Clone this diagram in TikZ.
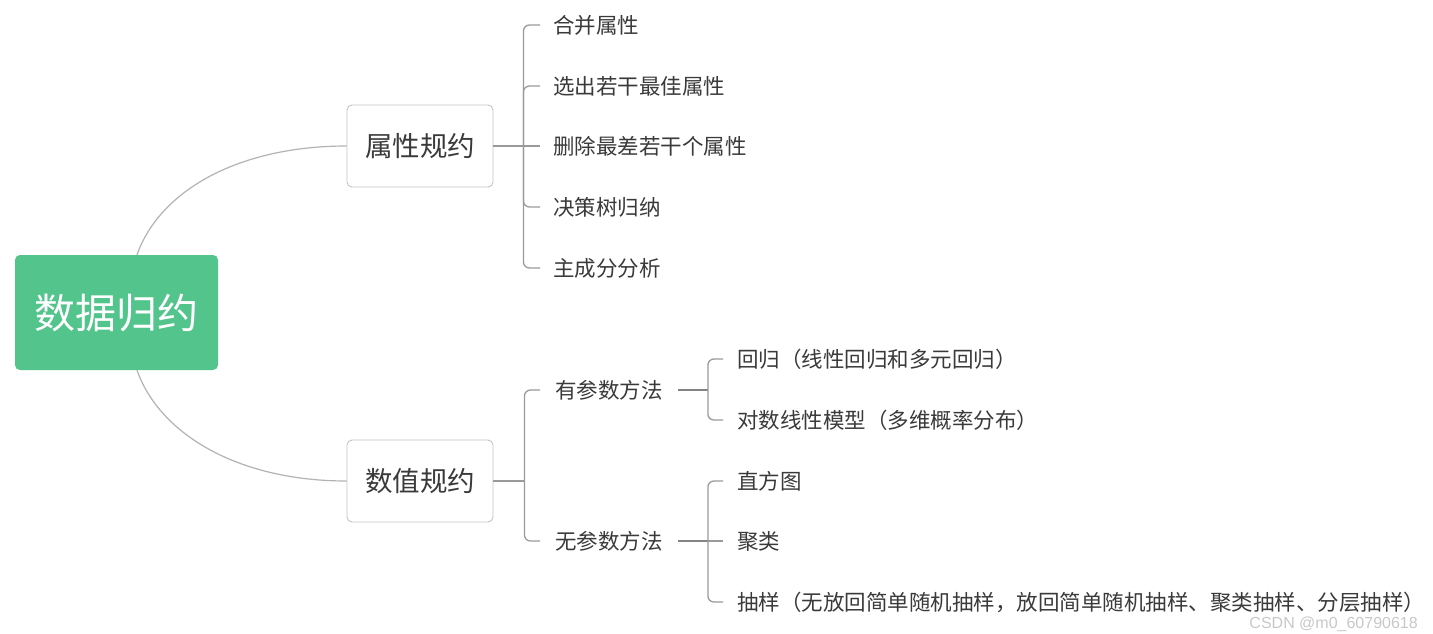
\documentclass[tikz,border=0pt]{standalone}
\usepackage{fontspec}
\newfontfamily\cjk{Noto Sans CJK SC}
\newfontfamily\wmfont{Liberation Sans}
\usetikzlibrary{positioning,calc}

\definecolor{rootgreen}{HTML}{52C48C}
\definecolor{textgray}{HTML}{3A3A3A}
\definecolor{linegray}{HTML}{9A9A9A}
\definecolor{boxgray}{HTML}{C4C4C4}
\definecolor{markgray}{HTML}{C8C8C8}

\tikzset{
  rootbox/.style={fill=rootgreen, rounded corners=5pt, minimum width=203pt,
    minimum height=115pt, text=white, font=\cjk\fontsize{41}{48}\selectfont},
  topicbox/.style={draw=boxgray, line width=0.9pt, fill=white, rounded corners=5pt,
    minimum width=146pt, minimum height=82pt, text=textgray,
    font=\cjk\fontsize{27.5}{33}\selectfont},
  leaf/.style={anchor=west, inner sep=0pt, text=textgray,
    font=\cjk\fontsize{21.5}{26}\selectfont},
  branch/.style={draw=linegray, line width=1.3pt, rounded corners=6pt},
  stub/.style={draw=linegray!85!black, line width=2.6pt},
  curve/.style={draw=linegray!75, line width=1.2pt},
}

\begin{document}
\begin{tikzpicture}[x=1pt,y=-1pt]
    \fill[white] (0,0) rectangle (1433,633);
    \useasboundingbox (0,0) rectangle (1433,633);

    % main topics
    \node[rootbox] (root) at (116.5,312.5) {数据归约};
    \node[topicbox] (attr) at (420,146) {属性规约};
    \node[topicbox] (num) at (420,481) {数值规约};

    % attribute reduction
    \node[leaf] (a1) at (553,25) {合并属性};
    \node[leaf] (a2) at (553,86) {选出若干最佳属性};
    \node[leaf] (a3) at (553,146) {删除最差若干个属性};
    \node[leaf] (a4) at (553,207) {决策树归纳};
    \node[leaf] (a5) at (553,268) {主成分分析};

    % numerosity reduction
    \node[leaf] (p1) at (555,390) {有参数方法};
    \node[leaf] (p2) at (555,541) {无参数方法};
    \node[leaf] (r1) at (737,359) {回归（线性回归和多元回归）};
    \node[leaf] (r2) at (737,420) {对数线性模型（多维概率分布）};
    \node[leaf] (s1) at (737,481) {直方图};
    \node[leaf] (s2) at (737,541) {聚类};
    \node[leaf] (s3) at (737,602) {抽样（无放回简单随机抽样，放回简单随机抽样、聚类抽样、分层抽样）};

    \node[anchor=east, inner sep=0pt, text=markgray, font=\wmfont\fontsize{16}{18}\selectfont]
        (mark) at (1418,624) {CSDN @m0\_60790618};

    % curves from the root
    \draw[curve] ([xshift=20.5]root.north) .. controls +(23,-65) and +(-107,0) .. (attr.west);
    \draw[curve] ([xshift=20.5]root.south) .. controls +(23,65) and +(-107,0) .. (num.west);

    % brackets
    \coordinate (attrJ) at ([xshift=30]attr.east);
    \draw[branch] (attr.east) -- ([xshift=-13]a3.west);
    \foreach \l in {a1,a2,a4,a5}
        \draw[branch] (attrJ) |- ([xshift=-13]\l.west);

    \coordinate (numJ) at ([xshift=31]num.east);
    \draw[branch] (num.east) -- (numJ);
    \foreach \l in {p1,p2}
        \draw[branch] (numJ) |- ([xshift=-15]\l.west);

    \coordinate (p1J) at ([xshift=45]p1.east);
    \draw[stub] ([xshift=15]p1.east) -- (p1J);
    \foreach \l in {r1,r2}
        \draw[branch] (p1J) |- ([xshift=-14]\l.west);

    \coordinate (p2J) at ([xshift=45]p2.east);
    \draw[stub] ([xshift=15]p2.east) -- (p2J);
    \draw[branch] (p2J) -- ([xshift=-14]s2.west);
    \foreach \l in {s1,s3}
        \draw[branch] (p2J) |- ([xshift=-14]\l.west);
\end{tikzpicture}
\end{document}
